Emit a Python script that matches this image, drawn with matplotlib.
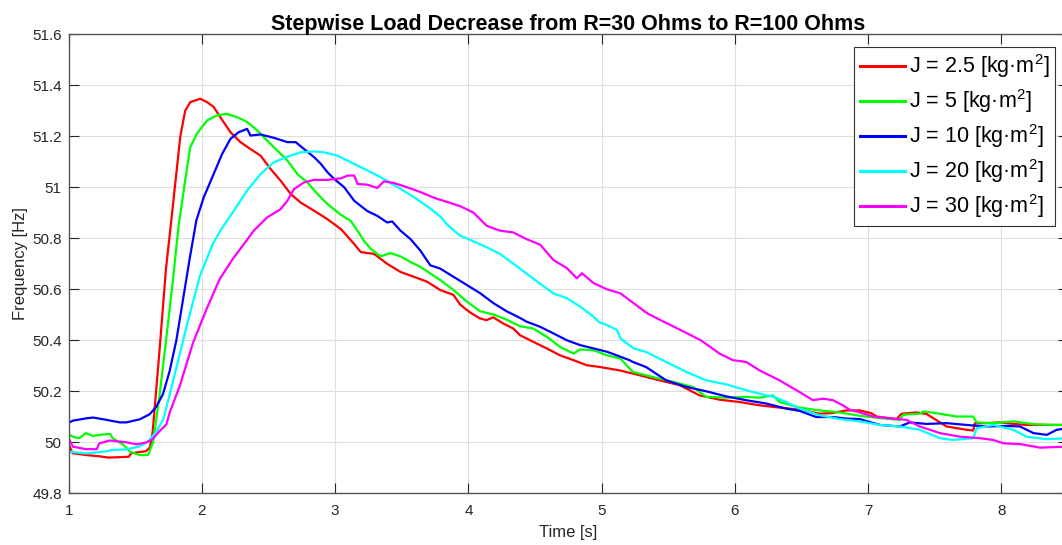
import matplotlib
matplotlib.use('Agg')
import matplotlib.pyplot as plt
from matplotlib.ticker import FuncFormatter

# ===========================================
# Frequency response after a load step
# ===========================================

t_red = [1.00, 1.03, 1.13, 1.23, 1.30, 1.45, 1.47, 1.58, 1.61, 1.63, 1.68, 1.73, 1.77,
         1.837, 1.874, 1.912, 1.987, 2.038, 2.088, 2.138, 2.214, 2.289, 2.364, 2.44,
         2.515, 2.59, 2.666, 2.741, 2.842, 2.942, 3.043, 3.142, 3.192, 3.241, 3.291,
         3.39, 3.49, 3.59, 3.689, 3.789, 3.888, 3.938, 4.01, 4.085, 4.136, 4.186,
         4.261, 4.337, 4.387, 4.487, 4.588, 4.688, 4.789, 4.889, 4.99, 5.134, 5.284,
         5.434, 5.585, 5.735, 5.885, 6.035, 6.185, 6.335, 6.486, 6.636, 6.736, 6.836,
         6.937, 7.025, 7.063, 7.213, 7.251, 7.363, 7.439, 7.589, 7.739, 7.789, 7.802,
         7.89, 7.99, 8.09, 8.19, 8.341, 8.5]
f_red = [49.990, 49.957, 49.950, 49.945, 49.940, 49.943, 49.957, 49.965, 49.980, 50.040,
         50.350, 50.680, 50.870, 51.197, 51.300, 51.334, 51.347, 51.334, 51.315, 51.275,
         51.216, 51.177, 51.150, 51.124, 51.072, 51.026, 50.974, 50.940, 50.908, 50.875,
         50.836, 50.778, 50.746, 50.742, 50.739, 50.700, 50.668, 50.649, 50.630, 50.597,
         50.578, 50.540, 50.510, 50.486, 50.479, 50.490, 50.466, 50.446, 50.420, 50.394,
         50.368, 50.341, 50.322, 50.302, 50.295, 50.282, 50.263, 50.243, 50.224, 50.184,
         50.167, 50.158, 50.145, 50.136, 50.128, 50.112, 50.115, 50.125, 50.125, 50.114,
         50.101, 50.091, 50.112, 50.117, 50.111, 50.062, 50.049, 50.046, 50.075, 50.075,
         50.078, 50.072, 50.068, 50.068, 50.068]

t_green = [1.00, 1.04, 1.08, 1.13, 1.18, 1.25, 1.31, 1.33, 1.41, 1.46, 1.53, 1.595, 1.633,
           1.683, 1.733, 1.783, 1.825, 1.874, 1.912, 1.962, 2.038, 2.113, 2.188, 2.264,
           2.339, 2.415, 2.49, 2.565, 2.641, 2.716, 2.791, 2.867, 2.942, 3.043, 3.117,
           3.167, 3.216, 3.266, 3.341, 3.415, 3.49, 3.565, 3.639, 3.714, 3.789, 3.888,
           3.988, 4.087, 4.187, 4.286, 4.386, 4.487, 4.588, 4.688, 4.789, 4.839, 4.94,
           5.04, 5.141, 5.234, 5.384, 5.534, 5.685, 5.785, 5.935, 6.085, 6.185, 6.285,
           6.335, 6.486, 6.636, 6.786, 6.937, 7.088, 7.238, 7.263, 7.388, 7.414, 7.539,
           7.664, 7.789, 7.815, 7.94, 8.09, 8.241, 8.391, 8.5]
f_green = [50.030, 50.020, 50.016, 50.036, 50.025, 50.030, 50.033, 50.016, 49.990, 49.963,
           49.950, 49.950, 50.000, 50.190, 50.410, 50.640, 50.850, 51.026, 51.157, 51.210,
           51.262, 51.282, 51.288, 51.275, 51.256, 51.223, 51.183, 51.144, 51.105, 51.052,
           51.019, 50.974, 50.934, 50.892, 50.868, 50.830, 50.790, 50.759, 50.729, 50.742,
           50.729, 50.707, 50.688, 50.662, 50.636, 50.597, 50.552, 50.514, 50.501, 50.481,
           50.455, 50.446, 50.414, 50.374, 50.348, 50.364, 50.361, 50.341, 50.328, 50.276,
           50.256, 50.237, 50.217, 50.178, 50.175, 50.178, 50.175, 50.184, 50.158, 50.136,
           50.125, 50.117, 50.104, 50.095, 50.088, 50.108, 50.112, 50.121, 50.112, 50.101,
           50.101, 50.078, 50.075, 50.082, 50.071, 50.068, 50.068]

t_blue = [1.00, 1.033, 1.133, 1.183, 1.283, 1.383, 1.433, 1.533, 1.608, 1.658, 1.708,
          1.758, 1.808, 1.858, 1.908, 1.958, 2.013, 2.088, 2.151, 2.214, 2.276, 2.339,
          2.364, 2.44, 2.54, 2.641, 2.704, 2.766, 2.842, 2.892, 2.942, 2.992, 3.068,
          3.143, 3.241, 3.316, 3.39, 3.428, 3.49, 3.565, 3.639, 3.714, 3.789, 3.888,
          3.988, 4.087, 4.187, 4.286, 4.386, 4.437, 4.538, 4.638, 4.739, 4.839, 4.94,
          5.04, 5.134, 5.209, 5.234, 5.334, 5.409, 5.484, 5.635, 5.785, 5.935, 6.085,
          6.235, 6.385, 6.486, 6.611, 6.736, 6.836, 6.937, 7.088, 7.238, 7.313, 7.439,
          7.589, 7.739, 7.89, 8.04, 8.14, 8.241, 8.341, 8.416, 8.5]
f_blue = [50.077, 50.085, 50.094, 50.097, 50.088, 50.078, 50.078, 50.090, 50.110, 50.140,
          50.190, 50.280, 50.400, 50.560, 50.720, 50.870, 50.960, 51.052, 51.130, 51.190,
          51.216, 51.229, 51.203, 51.207, 51.194, 51.177, 51.177, 51.150, 51.118, 51.092,
          51.059, 51.033, 51.000, 50.947, 50.907, 50.888, 50.862, 50.866, 50.830, 50.797,
          50.752, 50.694, 50.681, 50.649, 50.617, 50.585, 50.546, 50.514, 50.488, 50.473,
          50.453, 50.427, 50.400, 50.381, 50.368, 50.355, 50.337, 50.322, 50.315, 50.295,
          50.269, 50.243, 50.217, 50.200, 50.180, 50.165, 50.152, 50.132, 50.123, 50.099,
          50.099, 50.093, 50.091, 50.068, 50.062, 50.078, 50.072, 50.075, 50.068, 50.062,
          50.064, 50.062, 50.036, 50.029, 50.049, 50.055]

t_cyan = [1.00, 1.13, 1.26, 1.33, 1.43, 1.53, 1.595, 1.66, 1.71, 1.783, 1.883, 1.983,
          2.083, 2.138, 2.239, 2.339, 2.44, 2.54, 2.641, 2.741, 2.842, 2.917, 3.018,
          3.118, 3.219, 3.344, 3.47, 3.595, 3.721, 3.796, 3.838, 3.938, 4.025, 4.137,
          4.236, 4.336, 4.435, 4.535, 4.638, 4.739, 4.839, 4.94, 4.984, 5.04, 5.116,
          5.141, 5.241, 5.334, 5.484, 5.635, 5.785, 5.935, 6.085, 6.235, 6.285, 6.385,
          6.486, 6.636, 6.786, 6.937, 7.088, 7.238, 7.388, 7.539, 7.639, 7.789, 7.815,
          7.94, 8.09, 8.19, 8.341, 8.5]
f_cyan = [49.963, 49.956, 49.963, 49.970, 49.972, 49.983, 50.003, 50.043, 50.090, 50.240,
          50.450, 50.650, 50.780, 50.830, 50.908, 50.987, 51.052, 51.098, 51.120, 51.137,
          51.141, 51.137, 51.124, 51.098, 51.072, 51.039, 51.000, 50.960, 50.914, 50.882,
          50.855, 50.810, 50.791, 50.765, 50.739, 50.701, 50.662, 50.623, 50.584, 50.565,
          50.532, 50.492, 50.470, 50.460, 50.440, 50.407, 50.368, 50.354, 50.315, 50.276,
          50.243, 50.227, 50.204, 50.184, 50.180, 50.158, 50.132, 50.106, 50.091, 50.082,
          50.068, 50.062, 50.049, 50.016, 50.009, 50.016, 50.055, 50.068, 50.049, 50.022,
          50.012, 50.016]

t_mag = [1.00, 1.03, 1.13, 1.21, 1.23, 1.31, 1.43, 1.51, 1.58, 1.63, 1.68, 1.733, 1.76,
         1.833, 1.933, 2.033, 2.133, 2.233, 2.333, 2.389, 2.49, 2.59, 2.641, 2.691,
         2.766, 2.842, 2.942, 3.043, 3.093, 3.143, 3.168, 3.244, 3.316, 3.366, 3.44,
         3.54, 3.646, 3.746, 3.838, 3.938, 4.037, 4.137, 4.236, 4.336, 4.435, 4.538,
         4.638, 4.739, 4.814, 4.852, 4.94, 5.04, 5.141, 5.241, 5.342, 5.442, 5.543,
         5.643, 5.744, 5.885, 5.985, 6.085, 6.185, 6.335, 6.486, 6.586, 6.661, 6.736,
         6.811, 6.861, 6.937, 7.038, 7.138, 7.288, 7.388, 7.539, 7.689, 7.84, 7.94,
         8.015, 8.14, 8.291, 8.5]
f_mag = [50.016, 49.983, 49.973, 49.973, 49.996, 50.007, 50.000, 49.992, 49.999, 50.012,
         50.043, 50.070, 50.120, 50.220, 50.390, 50.520, 50.640, 50.720, 50.790, 50.830,
         50.882, 50.914, 50.947, 50.993, 51.019, 51.029, 51.029, 51.035, 51.046, 51.046,
         51.013, 51.010, 50.997, 51.023, 51.017, 51.000, 50.980, 50.958, 50.943, 50.926,
         50.901, 50.849, 50.830, 50.823, 50.797, 50.775, 50.715, 50.683, 50.643, 50.663,
         50.624, 50.600, 50.584, 50.545, 50.506, 50.479, 50.453, 50.427, 50.400, 50.348,
         50.322, 50.315, 50.282, 50.243, 50.197, 50.165, 50.171, 50.165, 50.145, 50.128,
         50.117, 50.101, 50.095, 50.088, 50.062, 50.036, 50.022, 50.016, 50.009, 49.996,
         49.993, 49.979, 49.983]

labels = ['J = 2.5 [kg·m$^{\\mathrm{2}}$]', 'J = 5 [kg·m$^{\\mathrm{2}}$]',
          'J = 10 [kg·m$^{\\mathrm{2}}$]', 'J = 20 [kg·m$^{\\mathrm{2}}$]',
          'J = 30 [kg·m$^{\\mathrm{2}}$]']
colors = ['#ff0000', '#00ff00', '#0000ff', '#00ffff', '#ff00ff']
x_ticks = [1, 2, 3, 4, 5, 6, 7, 8]
y_ticks = [49.8, 50.0, 50.2, 50.4, 50.6, 50.8, 51.0, 51.2, 51.4, 51.6]

plt.rcParams['font.family'] = ['Liberation Sans', 'DejaVu Sans']
plt.rcParams['mathtext.fontset'] = 'custom'
plt.rcParams['mathtext.rm'] = 'Liberation Sans'
plt.rcParams['mathtext.it'] = 'Liberation Sans:italic'

fig = plt.figure(figsize=(10.62, 5.45), dpi=100)
# right edge of the axes sits just past the image edge, like the reference crop
ax = fig.add_axes([0.0647, 0.0949, 0.9409, 0.8422])

series = [(t_red, f_red), (t_green, f_green), (t_blue, f_blue), (t_cyan, f_cyan), (t_mag, f_mag)]
for (t, f), c, lab in zip(series, colors, labels):
    ax.plot(t, f, color=c, linewidth=1.6, label=lab)

ax.set_xlim(1, 8.5)
ax.set_ylim(49.8, 51.6)
ax.set_xticks(x_ticks)
ax.set_yticks(y_ticks)
ax.yaxis.set_major_formatter(FuncFormatter(lambda v, p: f'{v:g}'))
ax.grid(True, color='#dedede', linewidth=0.8)
ax.set_axisbelow(True)

ax.tick_params(direction='in', length=7, width=0.8, top=True, right=True,
               labelsize=11, colors='#262626')
ax.tick_params(axis='x', pad=8)
ax.tick_params(axis='y', pad=5)
for sp in ax.spines.values():
    sp.set_color('#555555')
    sp.set_linewidth(1.0)

ax.set_xlabel('Time [s]', fontsize=12, color='#262626', labelpad=5)
ax.set_ylabel('Frequency [Hz]', fontsize=12, color='#262626', labelpad=3)
ax.set_title('Stepwise Load Decrease from R=30 Ohms to R=100 Ohms',
             fontsize=15.5, fontweight='bold', pad=3)

leg = ax.legend(loc='upper right', bbox_to_anchor=(1055 / 1062, 1 - 47 / 545),
                bbox_transform=fig.transFigure, borderaxespad=0, fontsize=15.5,
                fancybox=False, framealpha=1, edgecolor='#333333',
                handlelength=2.1, handletextpad=0.2, borderpad=0.25, labelspacing=0.33)
leg.get_frame().set_linewidth(0.8)
for line in leg.get_lines():
    line.set_linewidth(2.2)

fig.savefig('out.png', dpi=100)
